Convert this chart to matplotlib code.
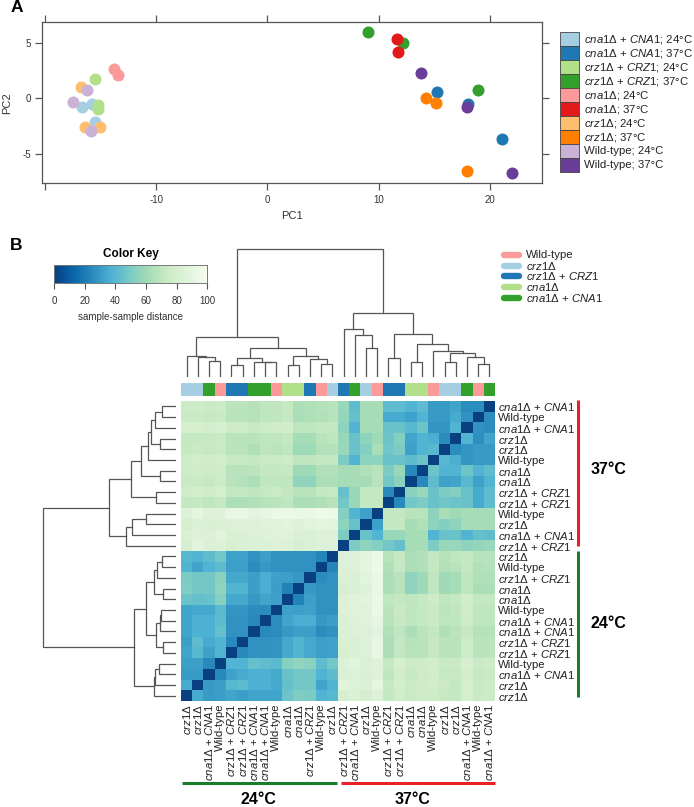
import numpy as np
import matplotlib
matplotlib.use("Agg")
import matplotlib.pyplot as plt
from matplotlib.colors import LinearSegmentedColormap

plt.rcParams["font.family"] = ["Liberation Sans", "DejaVu Sans"]
plt.rcParams["mathtext.fontset"] = "custom"
plt.rcParams["mathtext.rm"] = "Liberation Sans"
plt.rcParams["mathtext.it"] = "Liberation Sans:italic"
plt.rcParams["mathtext.bf"] = "Liberation Sans:bold"

W, H = 694, 807

CNA = r"$\mathit{cna1}$Δ + $\mathit{CNA1}$"
CRZ = r"$\mathit{crz1}$Δ + $\mathit{CRZ1}$"
cna = r"$\mathit{cna1}$Δ"
crz = r"$\mathit{crz1}$Δ"
WT = "Wild-type"

# panel A
pca_labels = [CNA + "; 24°C", CNA + "; 37°C", CRZ + "; 24°C", CRZ + "; 37°C", cna + "; 24°C",
              cna + "; 37°C", crz + "; 24°C", crz + "; 37°C", WT + "; 24°C", WT + "; 37°C"]
pca_colors = ["#a6cee3", "#1f78b4", "#b2df8a", "#33a02c", "#fb9a99",
              "#e31a1c", "#fdbf6f", "#ff7f00", "#cab2d6", "#6a3d9a"]
pc1 = [[-15.78, -16.65, -15.48], [15.25, 18.03, 21.12], [-15.48, -15.27, -15.27], [9.05, 12.2, 18.9],
       [-13.77, -13.47], [11.68, 11.74], [-16.8, -16.4, -15.1], [14.29, 15.13, 17.92],
       [-16.2, -17.52, -15.84], [13.78, 17.94, 21.96]]
pc2 = [[-0.51, -0.84, -2.19], [0.57, -0.54, -3.72], [1.71, -0.66, -0.96], [5.95, 4.98, 0.72],
       [2.64, 2.07], [5.29, 4.14], [1.02, -2.58, -2.64], [0.03, -0.42, -6.58],
       [0.69, -0.33, -3.0], [2.25, -0.81, -6.73]]

# panel B, samples in column order (left to right)
sample_labels = [crz, crz, CNA, WT, CRZ, CRZ, CNA, CNA, WT, cna, cna, CRZ, WT, crz,
                 CRZ, CNA, crz, WT, CRZ, CRZ, cna, cna, WT, crz, crz, CNA, WT, CNA]
strain_colors = {WT: "#fb9a99", crz: "#a6cee3", CRZ: "#1f78b4", cna: "#b2df8a", CNA: "#33a02c"}
strain_names = [WT, crz, CRZ, cna, CNA]

# rows 13..0, columns 0..13
dist_24 = [
    [40, 38, 42, 48, 32, 32, 27, 31, 27, 27, 27, 27, 23, 0],
    [38, 33, 38, 42, 31, 31, 25, 29, 27, 27, 27, 27, 0, 23],
    [50, 48, 48, 54, 34, 34, 31, 36, 32, 31, 29, 0, 25, 27],
    [51, 48, 48, 56, 39, 39, 31, 36, 31, 22, 0, 29, 27, 27],
    [46, 44, 45, 53, 34, 34, 29, 33, 32, 0, 22, 31, 27, 27],
    [33, 34, 34, 41, 28, 28, 25, 25, 0, 32, 31, 32, 27, 27],
    [33, 37, 37, 42, 27, 27, 24, 0, 25, 33, 36, 36, 29, 31],
    [33, 37, 37, 44, 27, 27, 0, 24, 25, 29, 31, 31, 25, 27],
    [31, 42, 35, 38, 24, 0, 27, 27, 28, 34, 39, 34, 31, 32],
    [33, 40, 32, 38, 0, 24, 27, 27, 28, 34, 39, 34, 31, 32],
    [31, 31, 24, 0, 38, 38, 44, 42, 41, 53, 56, 54, 42, 48],
    [30, 30, 0, 24, 32, 35, 37, 37, 34, 45, 48, 48, 38, 42],
    [35, 0, 30, 31, 40, 42, 37, 37, 34, 44, 48, 48, 33, 38],
    [0, 35, 30, 31, 33, 31, 33, 33, 33, 46, 51, 50, 38, 40],
]
# rows 27..14, columns 14..27
dist_37 = [
    [58, 42, 62, 62, 42, 42, 38, 42, 30, 30, 33, 25, 25, 0],
    [57, 44, 62, 62, 35, 35, 32, 38, 30, 30, 35, 27, 0, 25],
    [55, 38, 62, 62, 45, 45, 40, 46, 28, 28, 38, 0, 27, 25],
    [58, 45, 55, 60, 46, 52, 33, 38, 36, 25, 0, 38, 26, 33],
    [58, 45, 52, 63, 47, 50, 32, 38, 40, 0, 25, 28, 30, 30],
    [50, 38, 55, 55, 45, 45, 42, 46, 0, 40, 36, 28, 30, 30],
    [62, 62, 65, 68, 50, 58, 24, 0, 46, 38, 38, 46, 38, 42],
    [62, 62, 62, 68, 48, 54, 0, 24, 42, 32, 33, 40, 32, 38],
    [44, 58, 72, 72, 24, 0, 54, 58, 45, 50, 52, 45, 35, 42],
    [48, 58, 72, 72, 0, 24, 48, 50, 45, 47, 46, 45, 35, 42],
    [52, 38, 32, 0, 72, 72, 68, 68, 55, 63, 60, 62, 62, 62],
    [55, 45, 0, 32, 72, 72, 62, 65, 55, 52, 55, 62, 62, 62],
    [50, 0, 45, 38, 58, 58, 62, 62, 38, 45, 45, 38, 44, 42],
    [0, 50, 55, 52, 48, 44, 62, 62, 50, 58, 58, 55, 57, 58],
]
# rows 27..14, columns 0..13
dist_cross = [
    [75, 75, 74, 75, 69, 69, 67, 71, 71, 73, 64, 65, 67, 68],
    [74, 74, 73, 74, 68, 68, 67, 70, 70, 72, 63, 65, 66, 68],
    [80, 80, 78, 82, 75, 75, 73, 75, 77, 78, 70, 70, 72, 72],
    [72, 72, 73, 74, 68, 68, 68, 70, 71, 72, 62, 62, 68, 70],
    [73, 74, 73, 74, 69, 69, 65, 70, 69, 71, 60, 60, 66, 67],
    [76, 78, 77, 78, 73, 73, 72, 74, 74, 75, 71, 71, 72, 72],
    [75, 76, 75, 76, 68, 68, 69, 72, 72, 73, 60, 60, 66, 66],
    [74, 74, 73, 75, 68, 67, 64, 70, 70, 71, 56, 56, 64, 64],
    [77, 79, 77, 80, 72, 72, 71, 73, 74, 72, 68, 68, 72, 73],
    [72, 73, 70, 73, 64, 64, 66, 68, 69, 70, 64, 64, 65, 68],
    [85, 90, 86, 87, 92, 92, 89, 91, 94, 94, 93, 93, 95, 94],
    [80, 84, 83, 84, 85, 86, 85, 87, 87, 89, 86, 88, 90, 88],
    [84, 86, 85, 88, 83, 83, 85, 86, 87, 87, 83, 83, 85, 85],
    [82, 88, 84, 85, 82, 83, 84, 84, 86, 85, 82, 84, 85, 85],
]

# trees as (height, left, right), leaves are positions
col_tree = (128.3,
    (40.3,
        (20.7, 0, (20, 1, (16.3, 2, 3))),
        (29,
            (19.3, (12, 4, 5), (14.7, 6, (14.7, 7, 8))),
            (20.7, (12.3, 9, 10), (18, 11, (13.3, 12, 13))))),
    (64,
        (48, 14, (42, 15, (29, 16, 17))),
        (43, (19.3, 18, 19),
            (33, (15.3, 20, 21),
                (26.3, 22, (24, (15.3, 23, 24), (19.7, 25, (12.7, 26, 27))))))))
row_tree = (133.3,
    (66.7,
        (45,
            (34.7,
                (27.7, (25.3, (20.7, (13.7, 0, 1), 2), (16.3, 3, 4)), 5),
                (16.3, 6, 7)),
            (20.3, 8, 9)),
        (50, (44.3, (30.3, 10, 11), 12), 13)),
    (42.3,
        (30.3,
            (22.3, (19.3, (14, 14, 15), 16), (13.3, 17, 18)),
            (20.3, (15.7, (15.3, 19, 20), 21), (12.7, 22, 23))),
        (22, (21, (17, 24, 25), 26), 27)))

key_ticks = [0, 20, 40, 60, 80, 100]


def px_axes(x0, y0, x1, y1):
    return fig.add_axes([x0 / W, 1 - y1 / H, (x1 - x0) / W, (y1 - y0) / H])


def draw_tree(ax, node, flip=False):
    # returns leaf position and height of a node
    if not isinstance(node, tuple):
        return node + 0.5, 0
    h, left, right = node
    p0, h0 = draw_tree(ax, left, flip)
    p1, h1 = draw_tree(ax, right, flip)
    xs, ys = [p0, p0, p1, p1], [h0, h, h, h1]
    if flip:
        xs, ys = ys, xs
    ax.plot(xs, ys, color="#555555", lw=0.9, solid_joinstyle="miter")
    return (p0 + p1) / 2, h


fig = plt.figure(figsize=(W / 100, H / 100), dpi=100)

# A: PCA
ax = px_axes(42, 22.3, 542, 182.7)
for xs, ys, c in zip(pc1, pc2, pca_colors):
    ax.scatter(xs, ys, s=75, color=c, linewidths=0, zorder=3)
ax.set_xlim(-20.27, 24.68)
ax.set_ylim(-7.63, 6.82)
ax.set_xticks([-20, -10, 0, 10, 20])
ax.set_xticklabels(["", "-10", "0", "10", "20"])
ax.set_yticks([-5, 0, 5])
ax.set_yticklabels(["-5", "0", "5"])
ax.tick_params(top=True, right=True, length=4.7, width=0.9, color="#555555", labelsize=7,
               labelcolor="#333333", pad=4)
ax.tick_params(axis="y", pad=3)
for s in ax.spines.values():
    s.set_color("#555555")
    s.set_linewidth(0.9)

# whole figure in pixels, for the free text and bars
over = fig.add_axes([0, 0, 1, 1], zorder=5)
over.set_xlim(0, W)
over.set_ylim(H, 0)
over.axis("off")
over.text(292, 216, "PC1", fontsize=8, color="#333333", ha="center", va="center")
over.text(7, 103, "PC2", fontsize=8, color="#333333", ha="center", va="center", rotation=90)
over.text(16.5, 8, "A", fontsize=12.5, fontweight="bold", ha="center", va="center")
over.text(16.5, 245, "B", fontsize=12.5, fontweight="bold", ha="center", va="center")

# A: legend
for i, (lab, c) in enumerate(zip(pca_labels, pca_colors)):
    top = 32.3 + 14 * i
    over.add_patch(plt.Rectangle((560.3, top), 18.7, 14, facecolor=c, edgecolor="#444444", lw=0.6))
    over.text(584, top + 7, lab, fontsize=8.2, color="#222222", ha="left", va="center")

# B: color key
cmap = LinearSegmentedColormap.from_list("key", ["#084081", "#0868ac", "#2b8cbe", "#4eb3d3", "#7bccc4",
                                                 "#a8ddb5", "#ccebc5", "#e0f3db", "#f7fcf0"])
kax = px_axes(54, 264.7, 207.5, 283.3)
kax.pcolormesh(np.linspace(0, 100, 65), [0, 1], np.linspace(0, 100, 64).reshape(1, -1), cmap=cmap,
               vmin=0, vmax=100)
kax.set_yticks([])
kax.set_xticks(key_ticks)
kax.tick_params(length=4, width=0.8, color="#555555", labelsize=7, labelcolor="#333333", pad=5.5)
for s in kax.spines.values():
    s.set_color("#777777")
    s.set_linewidth(0.7)
over.text(130.7, 254, "Color Key", fontsize=8.5, fontweight="bold", ha="center", va="center")
over.text(130.7, 316.7, "sample-sample distance", fontsize=7, color="#333333", ha="center", va="center")

# B: strain legend
for i, name in enumerate(strain_names):
    yy = 254.7 + 10.8 * i
    over.plot([504.5, 519.5], [yy, yy], color=strain_colors[name], lw=4.6, solid_capstyle="round")
    over.text(526, yy, name, fontsize=8.2, color="#222222", ha="left", va="center")

# B: heatmap, off-diagonal block mirrors across the anti-diagonal
cross = np.array(dist_cross)
dist = np.vstack([np.hstack([cross, np.array(dist_37)]),
                  np.hstack([np.array(dist_24), cross[::-1, ::-1].T])])
hax = px_axes(181, 401, 495, 701)
hax.pcolormesh(np.arange(29), np.arange(29), dist, cmap=cmap, vmin=0, vmax=100, linewidth=0)
hax.set_xlim(0, 28)
hax.set_ylim(28, 0)
hax.set_xticks(np.arange(28) + 0.5)
hax.set_xticklabels(sample_labels, rotation=90, fontsize=8.2, color="#222222")
hax.set_yticks(np.arange(28) + 0.5)
hax.set_yticklabels(sample_labels[::-1], fontsize=8.2, color="#222222")
hax.yaxis.tick_right()
hax.tick_params(length=0, pad=2)
for s in hax.spines.values():
    s.set_visible(False)

# B: column colour bar
cax = px_axes(181, 382.7, 495, 396)
for i, lab in enumerate(sample_labels):
    cax.bar(i + 0.5, 1, width=1, color=strain_colors[lab])
cax.set_xlim(0, 28)
cax.set_ylim(0, 1)
cax.axis("off")

# B: dendrograms
tax = px_axes(181, 248, 495, 377)
draw_tree(tax, col_tree)
tax.set_xlim(0, 28)
tax.set_ylim(0, 129)
tax.axis("off")

lax = px_axes(40, 401, 176, 701)
draw_tree(lax, row_tree, flip=True)
lax.set_xlim(136, 0)
lax.set_ylim(28, 0)
lax.axis("off")

# B: temperature bars
over.plot([578, 578], [400, 546], color="#e8202a", lw=2.2, solid_capstyle="butt")
over.plot([578, 578], [551, 697], color="#1a7d2a", lw=2.2, solid_capstyle="butt")
over.plot([182, 336.7], [783, 783], color="#1a7d2a", lw=2.2, solid_capstyle="butt")
over.plot([340.7, 495], [783, 783], color="#e8202a", lw=2.2, solid_capstyle="butt")
over.set_xlim(0, W)
over.set_ylim(H, 0)
for x, y, t in [(608.7, 470, "37°C"), (608.7, 624, "24°C"), (258, 799, "24°C"), (413, 799, "37°C")]:
    over.text(x, y, t, fontsize=11.5, fontweight="bold", ha="center", va="center")

fig.savefig("out.png", dpi=100)
